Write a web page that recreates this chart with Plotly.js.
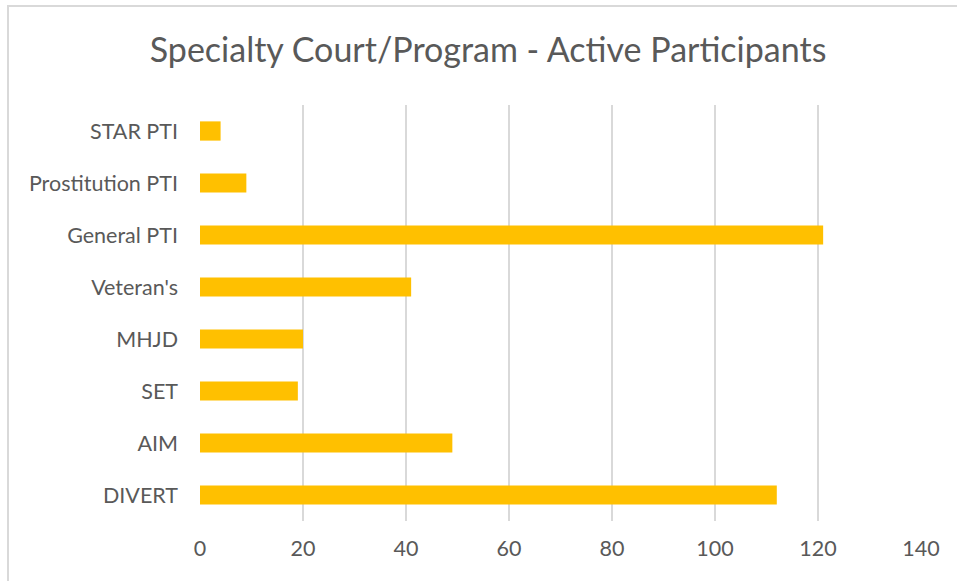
<!DOCTYPE html>
<html>
<head>
<meta charset="utf-8">
<script src="https://cdn.plot.ly/plotly-3.0.1.min.js"></script>
<style>
html,body{margin:0;padding:0;background:#fff;}
#wrap{position:relative;width:957px;height:581px;overflow:hidden;}
#chart{position:absolute;left:0;top:0;width:957px;height:581px;}
#frame{position:absolute;left:7px;top:5px;width:1000px;height:700px;border-left:2px solid #d9d9d9;border-top:2px solid #d9d9d9;pointer-events:none;}
</style>
</head>
<body>
<div id="wrap"><div id="chart"></div><div id="frame"></div></div>
<script>
const chartTitle = "Specialty Court/Program - Active Participants";
const programs = ["STAR PTI", "Prostitution PTI", "General PTI", "Veteran's", "MHJD", "SET", "AIM", "DIVERT"];
const participants = [4, 9, 121, 41, 20, 19, 49, 112];
const xTicks = [0, 20, 40, 60, 80, 100, 120, 140];

const trace = {
  type: 'bar',
  orientation: 'h',
  y: programs,
  x: participants,
  width: 0.37,
  marker: {color: '#FFC000'},
  hoverinfo: 'x+y'
};

const fontFam = 'Lato, "Open Sans", sans-serif';

const layout = {
  width: 957,
  height: 581,
  margin: {l: 199.5, r: 35.5, t: 105, b: 60},
  paper_bgcolor: '#ffffff',
  plot_bgcolor: '#ffffff',
  showlegend: false,
  title: {
    text: chartTitle,
    x: 0.51,
    xanchor: 'center',
    y: 1 - 50/581,
    yanchor: 'middle',
    font: {family: fontFam, size: 34, color: '#595959'}
  },
  xaxis: {
    range: [0, 140],
    tickvals: xTicks,
    ticktext: xTicks.map(String),
    showgrid: true,
    gridcolor: '#d9d9d9',
    gridwidth: 1.5,
    zeroline: false,
    showline: false,
    ticks: '',
    tickfont: {family: fontFam, size: 21.5, color: '#595959'},
    ticklabelstandoff: 12,
    fixedrange: true
  },
  yaxis: {
    type: 'category',
    autorange: 'reversed',
    showgrid: false,
    zeroline: false,
    showline: false,
    ticks: '',
    ticklabelstandoff: 21,
    tickfont: {family: fontFam, size: 21.5, color: '#595959'},
    fixedrange: true
  }
};

Plotly.newPlot('chart', [trace], layout, {displayModeBar: false, staticPlot: true});
</script>
</body>
</html>
